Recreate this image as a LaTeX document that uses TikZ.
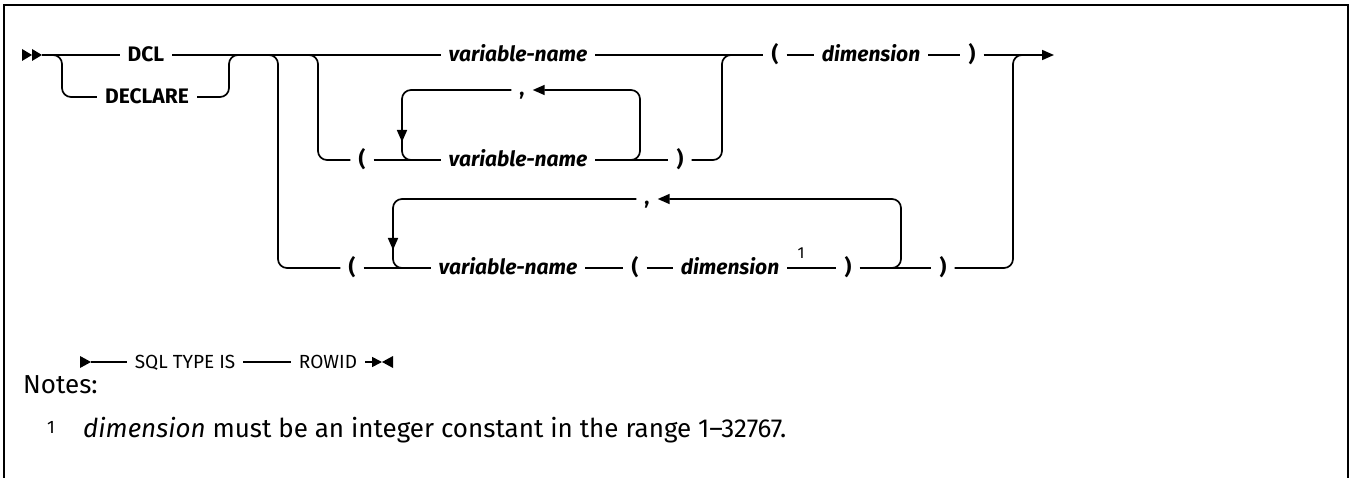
\documentclass[tikz,border=0pt]{standalone}
\usepackage{fontspec}
\setmainfont{Fira Sans}
\newfontfamily\dfont{Fira Sans}
\usetikzlibrary{arrows.meta}
\begin{document}
\begin{tikzpicture}[x=1pt,y=-1pt,
  ln/.style={line width=1.7pt, rounded corners=9pt},
  kw/.style={font=\dfont\bfseries\fontsize{21}{24}\selectfont, inner xsep=8pt, inner ysep=0pt, anchor=base},
  var/.style={kw, font=\dfont\bfseries\itshape\fontsize{21}{24}\selectfont},
  sq/.style={kw, font=\dfont\fontsize{19}{22}\selectfont},
  supl/.style={font=\dfont\fontsize{16}{18}\selectfont, inner sep=0pt},
  note/.style={font=\fontsize{26}{30}\selectfont, inner sep=0pt, anchor=base west},
  tip/.style={-{Triangle[length=12pt,width=10pt]}},
]
\useasboundingbox (0,0) rectangle (1352,478);
\draw[line width=2pt] (4,478) -- (4,5) -- (1348,5) -- (1348,478);

% rows
\coordinate (R1) at (0,55);
\coordinate (RD) at (0,97);
\coordinate (R2) at (0,160);
\coordinate (R3) at (0,268);
\coordinate (L2) at (0,90);
\coordinate (L3) at (0,199);
\coordinate (RS) at (0,362);

% text nodes
\node[kw]  (dcl)  at (146,62)  {DCL};
\node[kw]  (decl) at (147,104) {DECLARE};
\node[var] (v1)   at (518,62)  {variable-name};
\node[kw]  (lp1)  at (775,62)  {(};
\node[var] (dim1) at (871,62)  {dimension};
\node[kw]  (rp1)  at (972,62)  {)};
\node[kw]  (lp2)  at (362,167) {(};
\node[var] (v2)   at (518,167) {variable-name};
\node[kw]  (rp2)  at (680,167) {)};
\node[kw]  (c2)   at (522,96)  {,};
\node[kw]  (lp3)  at (352,275) {(};
\node[var] (v3)   at (508,275) {variable-name};
\node[kw]  (lp3b) at (635,275) {(};
\node[var] (dim3) at (730,275) {dimension};
\node[supl] (sup) at (801,253) {1};
\node[kw]  (rp3)  at (848,275) {)};
\node[kw]  (rp3b) at (943,275) {)};
\node[kw]  (c3)   at (647,205) {,};
\node[sq]  (sql)  at (185,368) {SQL TYPE IS};
\node[sq]  (rowid) at (328,368) {ROWID};

% start marker
\coordinate (start) at (42,55);
\fill (22,49) -- (32,55) -- (22,61) -- cycle;
\fill (32,49) -- (42,55) -- (32,61) -- cycle;

% row 1
\draw[ln] (start) -- (dcl.west|-R1);
\draw[ln] (dcl.east|-R1) -- (v1.west|-R1);
\draw[ln] (52,55) -| (62,97) -- (decl.west|-RD);
\draw[ln] (decl.east|-RD) -| (229,55) -- (239,55);
\draw[ln] (268,55) -| (278,268) -- (lp3.west|-R3);
\draw[ln] (308,55) -| (318,160) -- (lp2.west|-R2);
\draw[ln] (v1.east|-R1) -- (lp1.west|-R1);
\draw[ln] (lp1.east|-R1) -- (dim1.west|-R1);
\draw[ln] (dim1.east|-R1) -- (rp1.west|-R1);
\draw[ln,tip] (rp1.east|-R1) -- (1054,55);

% row 2
\draw[ln] (lp2.east|-R2) -- (v2.west|-R2);
\draw[ln] (v2.east|-R2) -- (rp2.west|-R2);
\draw[ln] (rp2.east|-R2) -| (722,55) -- (732,55);
\draw[ln,tip] (625,160) -| (640,90) -- (c2.east|-L2);
\draw[ln] (c2.west|-L2) -| (402,160) -- (414,160);
\draw[ln,tip] (402,118) -- (402,142);

% row 3
\draw[ln] (lp3.east|-R3) -- (v3.west|-R3);
\draw[ln] (v3.east|-R3) -- (lp3b.west|-R3);
\draw[ln] (lp3b.east|-R3) -- (dim3.west|-R3);
\draw[ln] (dim3.east|-R3) -- (rp3.west|-R3);
\draw[ln] (rp3.east|-R3) -- (rp3b.west|-R3);
\draw[ln] (rp3b.east|-R3) -| (1013,55) -- (1023,55);
\draw[ln,tip] (885,268) -| (901,199) -- (c3.east|-L3);
\draw[ln] (c3.west|-L3) -| (393,268) -- (405,268);
\draw[ln,tip] (393,226) -- (393,250);

% SQL TYPE IS line
\coordinate (s0) at (91,362);
\fill (80,356) -- (91,362) -- (80,368) -- cycle;
\draw[ln] (s0) -- (sql.west|-RS);
\draw[ln] (sql.east|-RS) -- (rowid.west|-RS);
\coordinate (s1) at (382,362);
\draw[ln,-{Triangle[length=10pt,width=10pt]}] (rowid.east|-RS) -- (s1);
\fill (393,356) -- (382,362) -- (393,368) -- cycle;

% notes
\node[note] (notes) at (23,393) {Notes:};
\node[font=\fontsize{18}{20}\selectfont, inner sep=0pt, anchor=base west] (n1s) at (47,433) {1};
\node[note] (n1) at (83,437) {\textit{dimension} must be an integer constant in the range 1–32767.};
\end{tikzpicture}
\end{document}
